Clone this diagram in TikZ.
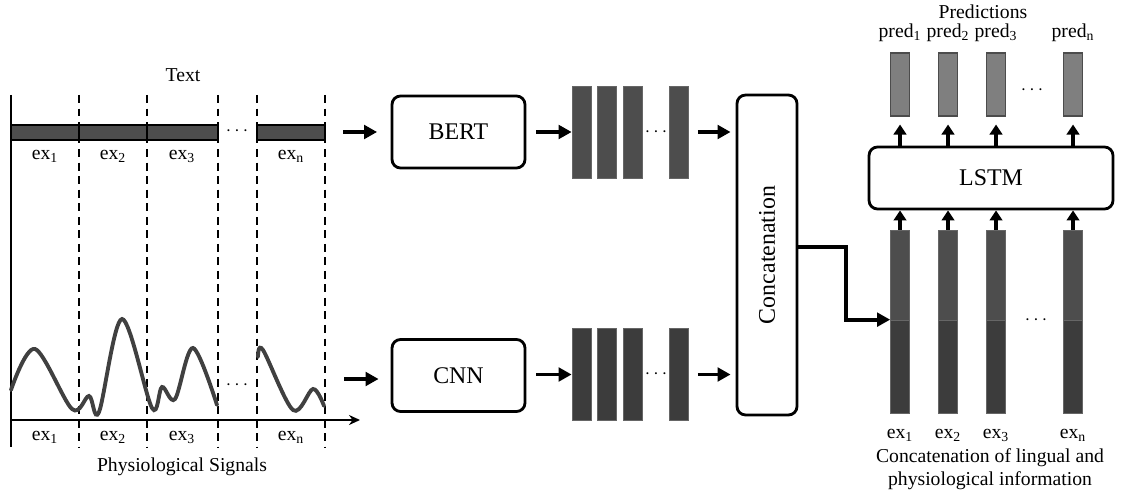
\documentclass[tikz,border=0pt]{standalone}
\usepackage{fontspec}
\setmainfont{Liberation Serif}
\newfontfamily\figfont{Liberation Serif}
\usetikzlibrary{arrows.meta,positioning,calc}
\definecolor{BarMid}{HTML}{4D4D4D}
\definecolor{BarDark}{HTML}{3C3C3C}
\definecolor{PredGray}{HTML}{7F7F7F}
\definecolor{WaveGray}{HTML}{404040}

\begin{document}
\begin{tikzpicture}[x=0.02cm,y=-0.02cm,
    model/.style={draw,line width=1.6pt,rounded corners=0.17cm,fill=white,
      minimum width=2.66cm,minimum height=1.44cm,inner sep=0pt,
      font=\figfont\fontsize{13.6}{16}\selectfont},
    vec/.style={draw=black!60,line width=0.4pt,fill=BarMid,inner sep=0pt,
      minimum width=0.38cm,minimum height=1.84cm},
    half/.style={draw=black!60,line width=0.4pt,inner sep=0pt,
      minimum width=0.38cm},
    pred/.style={draw=black!70,line width=0.6pt,fill=PredGray,inner sep=0pt,
      minimum width=0.37cm,minimum height=1.26cm},
    label/.style={font=\figfont\fontsize{11.2}{12.8}\selectfont,inner sep=0pt},
    flow/.style={-{Triangle[length=2.6mm,width=2.7mm]},line width=2.2pt},
    up/.style={-{Triangle[length=2mm,width=2.5mm]},line width=2pt},
    grid/.style={dash pattern=on 4.5pt off 3.2pt,line width=1.2pt}
  ]
  \useasboundingbox (0,0) rectangle (1121,493);

  % text and signal panel
  \draw[line width=1.1pt] (11,95) -- (11,447);
  \foreach \x in {79,147,218,257,325}
    \draw[grid] (\x,95) -- (\x,447);
  \draw[fill=BarMid,line width=0.9pt] (11,125) rectangle (218,140);
  \draw[fill=BarMid,line width=0.9pt] (257,125) rectangle (325,140);
  \foreach \x in {79,147}
    \draw[line width=0.9pt] (\x,125) -- (\x,140);
  \node[label] (txt) at (183,75) {Text};
  \node[label] at (237,131) {$\cdots$};
  \foreach \x/\i in {45/1,113/2,182/3,291/n}
    \node[label] at (\x,156) {ex\textsubscript{\i}};

  \draw[WaveGray,line width=2.2pt,line cap=round] plot[smooth,tension=0.55] coordinates
    {(11,390) (35,349) (72,409) (89,396) (99,412) (122,319) (152,408)
     (162,387) (175,399) (193,348) (217,405)};
  \draw[WaveGray,line width=2.2pt,line cap=round] plot[smooth,tension=0.55] coordinates
    {(258,357) (263,350) (293,410) (313,389) (324,406)};
  \node[label] at (237,385) {$\cdots$};
  \draw[-{Stealth[length=2.2mm,width=2mm]},line width=1.1pt] (11,420) -- (360,420);
  \foreach \x/\i in {45/1,113/2,182/3,291/n}
    \node[label] at (\x,437) {ex\textsubscript{\i}};
  \node[label] (sig) at (182,467) {Physiological Signals};

  \coordinate (txtout) at (343,132);
  \coordinate (sigout) at (344,379);

  % encoders
  \node[model] (bert) at (458.5,132) {BERT};
  \node[model] (cnn) at (458.5,375.5) {CNN};
  \draw[flow,shorten >=0.27cm] (txtout) -- (txtout -| bert.west);
  \draw[flow,shorten >=0.24cm] (sigout) -- (sigout -| cnn.west);

  \foreach \x/\n in {581.5/1,607/2,632.5/3,679/n}{
    \node[vec] (t\n) at (\x,132) {};
    \node[vec,fill=BarDark] (s\n) at (\x,374.5) {};
  }
  \node[label] at (656,132) {$\cdots$};
  \node[label] at (656,374.5) {$\cdots$};
  \draw[flow,shorten <=0.2cm] (bert.east) -- (bert.east -| t1.west);
  \draw[flow,shorten <=0.2cm] (cnn.east |- s1) -- (s1.west);

  \node[draw,line width=1.6pt,rounded corners=0.17cm,minimum width=1.2cm,
    minimum height=6.4cm,inner sep=0pt] (concat) at (767,255)
    {\rotatebox{90}{\figfont\fontsize{13.6}{16}\selectfont Concatenation}};
  \draw[flow,shorten <=0.18cm,shorten >=0.1cm] (tn.east) -- (tn.east -| concat.west);
  \draw[flow,shorten <=0.18cm,shorten >=0.1cm] (sn.east) -- (sn.east -| concat.west);

  % sequence model
  \node[model,minimum width=4.88cm,minimum height=1.24cm] (lstm) at (991,178) {LSTM};
  \foreach \x/\n in {900/1,948/2,996/3,1073/n}{
    \node[half,fill=BarMid,minimum height=1.8cm] (ca\n) at (\x,275) {};
    \node[half,fill=BarDark,minimum height=1.86cm] (cb\n) at (\x,366.5) {};
    \node[pred] (p\n) at (\x,84.5) {};
    \node[label] (e\n) at (\x,435) {ex\textsubscript{\n}};
    \node[label] (pl\n) at (\x,33) {pred\textsubscript{\n}};
    \draw[up] (ca\n.north) -- (ca\n.north |- lstm.south);
    \draw[up,shorten >=0.16cm] (lstm.north -| p\n) -- (p\n.south);
  }
  \node[label] at (1036,320) {$\cdots$};
  \node[label] at (1032,90) {$\cdots$};
  \node[label] (preds) at (983,12) {Predictions};
  \node[label,align=center] (cap) at (990,469)
    {Concatenation of lingual and\\physiological information};

  \draw[flow,rounded corners=0pt] ([yshift=0.16cm]concat.east) -- ++(48,0)
    |- (cb1.north west);
\end{tikzpicture}
\end{document}
